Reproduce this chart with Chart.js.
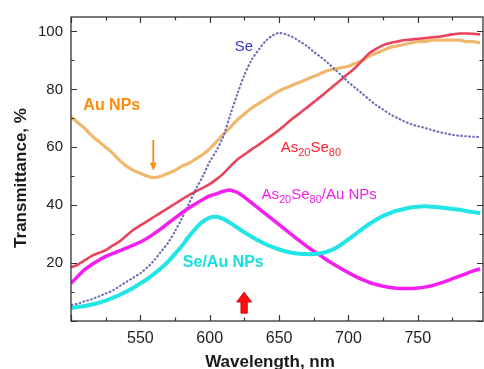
<!DOCTYPE html>
<html>
<head>
<meta charset="utf-8">
<script src="https://cdn.jsdelivr.net/npm/chart.js@4/dist/chart.umd.min.js"></script>
<style>
  html, body { margin: 0; padding: 0; background: #ffffff; }
  #c { display: block; }
</style>
</head>
<body>
<canvas id="c" width="484" height="369"></canvas>
<script>
// ---------------- DATA ----------------
const wavelengths = [500,505,510,515,520,525,530,535,540,545,550,555,560,565,570,575,580,585,590,595,
                     600,605,610,615,620,625,630,635,640,645,650,655,660,665,670,675,680,685,690,695,
                     700,705,710,715,720,725,730,735,740,745,750,755,760,765,770,775,780,785,790,795];

const auNPs = [70.5,68.5,66.5,64,62,60,58,55.5,53.5,52,51,50,49.5,50,51,52,53.5,54.5,56,57.5,
               59.5,62,64.5,67,69.5,71.5,73.5,75,76.5,78,79.5,80.5,81.5,82.5,83.5,84.5,85.5,86.5,87,87.5,
               88,89,90,91.5,92.5,93.5,94.5,95,95.5,96,96.5,96.5,97,97,97,97,97,96.5,96.5,96];

const as20se80 = [18.5,19.5,21,22.5,23.5,24.5,26,27.5,29.5,31.5,33,34.5,36,37.5,39,40.5,42,43.5,44.8,46,
                  47.3,49,51,53.5,55.8,57.5,59.2,60.8,62.5,64.2,66,68,70,71.8,73.7,75.6,77.5,79.5,81.5,83.5,
                  85.5,87.5,90,92.5,94,95.3,96,96.5,97,97.2,97.5,97.7,98,98.2,98.6,99,99.3,99.3,99.2,99];

const se = [5.5,6,6.8,7.5,8.5,9.5,10.5,12,13.5,15,16.5,18.5,21,24,27,31,35.5,40.5,45.5,50,
            55,59,64,71.5,78.5,85,90,93.5,96.5,98.5,99.5,99,98,96.5,95,93,91.2,89.2,87,84.8,
            82.5,80.5,78.5,76.5,74.6,73,71.4,70.2,69,68,67.3,66.7,66,65.3,64.8,64.3,64,63.8,63.6,63.5];

const as20se80Au = [13,15.5,17.8,19.5,21,22.3,23.3,24.2,25.2,26.2,27.3,28.6,30.2,31.9,33.8,35.6,37.4,39,40.5,42,
                    43.2,44,44.8,45.2,44.4,42.8,40.9,39,37.1,35.2,33.3,31.4,29.5,27.6,25.8,24.1,22.5,20.9,19.4,18,
                    16.7,15.4,14.3,13.3,12.6,12,11.6,11.3,11.2,11.2,11.4,11.7,12.2,12.9,13.7,14.6,15.5,16.4,17.3,18];

const seAu = [4.5,4.8,5.2,5.7,6.3,7,8,9,10.2,11.5,13,14.5,16.3,18.3,20.5,23.2,26,29.2,32,34.3,
              35.7,36,35.2,33.8,32.2,30.6,29.2,27.8,26.6,25.6,24.7,24,23.5,23.2,23.1,23.1,23.4,24,25,26.5,
              28.2,30,31.8,33.5,35,36.3,37.3,38.1,38.7,39.2,39.5,39.6,39.5,39.3,39,38.7,38.4,38,37.6,37.3];

const xTickLabels = [550, 600, 650, 700, 750];
const yTickLabels = [20, 40, 60, 80, 100];
const xRange = [500, 797];
const yRange = [0, 105];

// ---------------- helpers ----------------
const FONT = "'Liberation Sans', Arial, Helvetica, sans-serif";
function pts(vals) { return wavelengths.map((w, i) => ({ x: w, y: vals[i] })); }

const seriesStyle = (color, width, dash) => ({
  borderColor: color, backgroundColor: color, borderWidth: width,
  pointRadius: 0, tension: 0.3, fill: false, borderDash: dash || []
});

// annotation texts (positions in data units)
const labels = [
  { parts: [['Se', 0]], x: 618, y: 93.2, color: '#3535d0', weight: 'normal', size: 15 },
  { parts: [['Au NPs', 0]], x: 508.9, y: 72.9, color: '#ff8a10', weight: 'bold', size: 16 },
  { parts: [['As', 0], ['20', 1], ['Se', 0], ['80', 1]], x: 651.2, y: 58.4, color: '#ff2030', weight: 'normal', size: 15 },
  { parts: [['As', 0], ['20', 1], ['Se', 0], ['80', 1], ['/Au NPs', 0]], x: 637.3, y: 42, color: '#f020e8', weight: 'normal', size: 15 },
  { parts: [['Se/Au NPs', 0]], x: 580.6, y: 18.8, color: '#18e0e0', weight: 'bold', size: 16 }
];

const framePlugin = {
  id: 'frame',
  afterDatasetsDraw(chart) {
    const { ctx, chartArea: a, scales: { x, y } } = chart;
    ctx.save();
    ctx.strokeStyle = '#333';
    ctx.lineWidth = 1.3;
    ctx.strokeRect(a.left, a.top, a.right - a.left, a.bottom - a.top);
    ctx.lineWidth = 1.2;
    ctx.beginPath();
    for (let v = xRange[0]; v <= xRange[1]; v += 25) {
      const px = Math.round(x.getPixelForValue(v)) + 0.5;
      const len = (v % 50 === 0) ? 6 : 3.5;
      ctx.moveTo(px, a.bottom); ctx.lineTo(px, a.bottom - len);
      ctx.moveTo(px, a.top); ctx.lineTo(px, a.top + len);
    }
    for (let v = yRange[0]; v <= yRange[1]; v += 10) {
      const py = Math.round(y.getPixelForValue(v)) + 0.5;
      const len = (v % 20 === 0) ? 6 : 3.5;
      ctx.moveTo(a.left, py); ctx.lineTo(a.left + len, py);
      ctx.moveTo(a.right, py); ctx.lineTo(a.right - len, py);
    }
    ctx.stroke();

    // axis titles
    ctx.fillStyle = '#1a1a1a';
    ctx.font = 'bold 17px ' + FONT;
    ctx.textAlign = 'center';
    ctx.textBaseline = 'alphabetic';
    ctx.fillText('Wavelength, nm', 270, 367);
    ctx.save();
    ctx.translate(26, 178);
    ctx.rotate(-Math.PI / 2);
    ctx.fillText('Transmittance, %', 0, 0);
    ctx.restore();

    // annotation labels
    ctx.textAlign = 'left';
    labels.forEach(l => {
      let px = x.getPixelForValue(l.x);
      const py = y.getPixelForValue(l.y);
      ctx.fillStyle = l.color;
      l.parts.forEach(([t, sub]) => {
        const size = sub ? Math.round(l.size * 0.72) : l.size;
        ctx.font = l.weight + ' ' + size + 'px ' + FONT;
        ctx.fillText(t, px, py + (sub ? 4 : 0));
        px += ctx.measureText(t).width;
      });
    });

    // orange thin arrow (down)
    {
      const ax = x.getPixelForValue(559.3);
      const y0 = y.getPixelForValue(62.5), y1 = y.getPixelForValue(51.9);
      ctx.strokeStyle = '#ff8a10'; ctx.fillStyle = '#ff8a10'; ctx.lineWidth = 1.8;
      ctx.beginPath(); ctx.moveTo(ax, y0); ctx.lineTo(ax, y1 - 6); ctx.stroke();
      ctx.beginPath(); ctx.moveTo(ax - 3.5, y1 - 8); ctx.lineTo(ax + 3.5, y1 - 8); ctx.lineTo(ax, y1); ctx.closePath(); ctx.fill();
    }
    // red thick arrow (up)
    {
      const ax = x.getPixelForValue(624.8);
      const tip = y.getPixelForValue(10), base = y.getPixelForValue(2.7);
      ctx.fillStyle = '#ff1010'; ctx.strokeStyle = '#c00000'; ctx.lineWidth = 0.8;
      ctx.beginPath();
      ctx.moveTo(ax, tip);
      ctx.lineTo(ax + 7.5, tip + 10);
      ctx.lineTo(ax + 3.2, tip + 10);
      ctx.lineTo(ax + 3.2, base);
      ctx.lineTo(ax - 3.2, base);
      ctx.lineTo(ax - 3.2, tip + 10);
      ctx.lineTo(ax - 7.5, tip + 10);
      ctx.closePath();
      ctx.fill(); ctx.stroke();
    }
    ctx.restore();
  }
};

new Chart(document.getElementById('c'), {
  type: 'line',
  data: {
    datasets: [
      Object.assign({ label: 'Se/Au NPs', data: pts(seAu) }, seriesStyle('#22e6e6', 4)),
      Object.assign({ label: 'As20Se80/Au NPs', data: pts(as20se80Au) }, seriesStyle('#f41ef0', 3.5)),
      Object.assign({ label: 'Se', data: pts(se) }, seriesStyle('#6a6ab4', 2, [2.5, 1.5])),
      Object.assign({ label: 'As20Se80', data: pts(as20se80) }, seriesStyle('#e8445c', 2.6)),
      Object.assign({ label: 'Au NPs', data: pts(auNPs) }, seriesStyle('rgba(238,176,92,0.9)', 3.2))
    ]
  },
  options: {
    responsive: false,
    animation: false,
    devicePixelRatio: 1,
    layout: { padding: { left: 0, right: 1, top: 13, bottom: 0 } },
    plugins: { legend: { display: false }, tooltip: { enabled: false } },
    scales: {
      x: {
        type: 'linear', min: xRange[0], max: xRange[1],
        grid: { display: false, drawTicks: false }, border: { display: false },
        ticks: { font: { size: 16, family: FONT }, color: '#222', padding: 8, maxRotation: 0, autoSkip: false },
        afterBuildTicks: s => { s.ticks = xTickLabels.map(v => ({ value: v })); },
        afterFit: s => { s.height = 48; }
      },
      y: {
        type: 'linear', min: yRange[0], max: yRange[1],
        grid: { display: false, drawTicks: false }, border: { display: false },
        ticks: { font: { size: 15, family: FONT }, color: '#222', padding: 8, autoSkip: false },
        afterBuildTicks: s => { s.ticks = yTickLabels.map(v => ({ value: v })); },
        afterFit: s => { s.width = 71; }
      }
    }
  },
  plugins: [framePlugin]
});
</script>
</body>
</html>
